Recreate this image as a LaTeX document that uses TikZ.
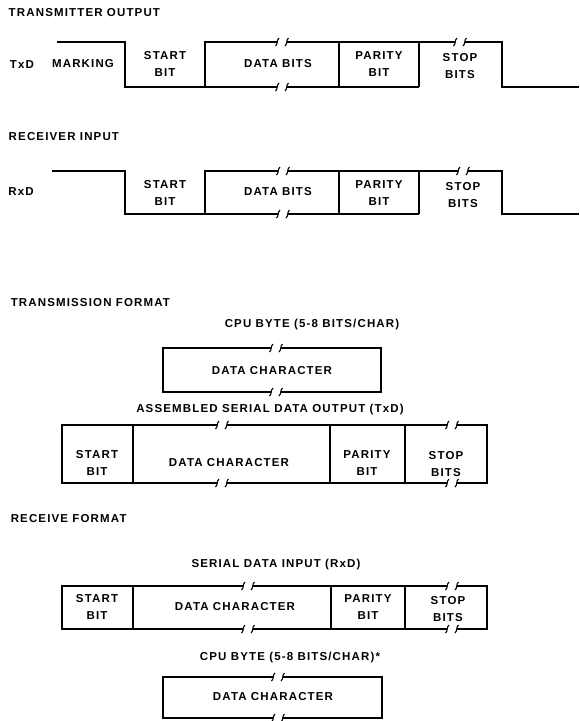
\documentclass[tikz,border=0pt]{standalone}
\usepackage{fontspec}
\newfontfamily\labfont{Liberation Sans}[LetterSpace=10]
\begin{document}
\begin{tikzpicture}[x=1pt,y=-1pt, line width=1.5pt, line join=miter,
  lab/.style={font=\labfont\bfseries\fontsize{11.5}{16.5}\selectfont, inner sep=0pt, align=center},
  title/.style={lab, anchor=west},
  brk/.pic={\draw[line width=1.1pt] (-6.5,4) .. controls (-4,2) and (-5.5,-2) .. (-3,-4);
            \draw[line width=1.1pt] (3,4) .. controls (5.5,2) and (4,-2) .. (6.5,-4);}]
\useasboundingbox (0,0) rectangle (579,721);

% ---------- Transmitter output ----------
\node[title] (tTitle) at (8,13) {TRANSMITTER OUTPUT};
\node[lab] (txd) at (22,65) {TxD};
\node[lab] (mark) at (83,64) {MARKING};
\node[lab] (tStart) at (165,64) {START\\BIT};
\node[lab] (tData) at (278,64) {DATA BITS};
\node[lab] (tPar) at (379,64) {PARITY\\BIT};
\node[lab] (tStop) at (460,66) {STOP\\BITS};
\draw (57,42) -- (125,42) -- (125,87) -- (277,87);
\draw (287,87) -- (419,87);
\draw (205,87) -- (205,42) -- (277,42);
\draw (287,42) -- (455,42);
\draw (465,42) -- (502,42) -- (502,87) -- (579,87);
\draw (339,42) -- (339,87);
\draw (419,42) -- (419,87);
\pic at (282,42) {brk}; \pic at (282,87) {brk}; \pic at (460,42) {brk};

% ---------- Receiver input ----------
\node[title] (rTitle) at (8,137) {RECEIVER INPUT};
\node[lab] (rxd) at (21,192) {RxD};
\node[lab] (rStart) at (165,193) {START\\BIT};
\node[lab] (rData) at (278,192) {DATA BITS};
\node[lab] (rPar) at (379,193) {PARITY\\BIT};
\node[lab] (rStop) at (463,195) {STOP\\BITS};
\draw (52,171) -- (125,171) -- (125,214) -- (278,214);
\draw (288,214) -- (419,214);
\draw (205,214) -- (205,171) -- (278,171);
\draw (288,171) -- (458,171);
\draw (468,171) -- (502,171) -- (502,214) -- (579,214);
\draw (339,171) -- (339,214);
\draw (419,171) -- (419,214);
\pic at (283,171) {brk}; \pic at (283,214) {brk}; \pic at (463,171) {brk};

% ---------- Transmission format ----------
\node[title] (tfTitle) at (10,303) {TRANSMISSION FORMAT};
\node[lab] (cpu1) at (312,325) {CPU BYTE (5-8 BITS/CHAR)};
\draw (271,348) -- (163,348) -- (163,392) -- (271,392);
\draw (281,348) -- (381,348) -- (381,392) -- (281,392);
\pic at (276,348) {brk}; \pic at (276,392) {brk};
\node[lab] (dc1) at (272,371) {DATA CHARACTER};

\node[lab] (asm) at (270,410) {ASSEMBLED SERIAL DATA OUTPUT (TxD)};
\draw (217,425) -- (62,425) -- (62,483) -- (217,483);
\draw (227,425) -- (447,425); \draw (227,483) -- (447,483);
\draw (457,425) -- (487,425) -- (487,483) -- (457,483);
\draw (133,425) -- (133,483);
\draw (330,425) -- (330,483);
\draw (405,425) -- (405,483);
\pic at (222,425) {brk}; \pic at (222,483) {brk};
\pic at (452,425) {brk}; \pic at (452,483) {brk};
\node[lab] (aStart) at (97,463) {START\\BIT};
\node[lab] (aData) at (229,463) {DATA CHARACTER};
\node[lab] (aPar) at (367,463) {PARITY\\BIT};
\node[lab] (aStop) at (446,464) {STOP\\BITS};

% ---------- Receive format ----------
\node[title] (rfTitle) at (10,519) {RECEIVE FORMAT};
\node[lab] (sdi) at (276,565) {SERIAL DATA INPUT (RxD)};
\draw (243,586) -- (62,586) -- (62,629) -- (243,629);
\draw (253,586) -- (447,586); \draw (253,629) -- (447,629);
\draw (457,586) -- (487,586) -- (487,629) -- (457,629);
\draw (133,586) -- (133,629);
\draw (331,586) -- (331,629);
\draw (405,586) -- (405,629);
\pic at (248,586) {brk}; \pic at (248,629) {brk};
\pic at (452,586) {brk}; \pic at (452,629) {brk};
\node[lab] (sStart) at (97,607) {START\\BIT};
\node[lab] (sData) at (235,607) {DATA CHARACTER};
\node[lab] (sPar) at (368,607) {PARITY\\BIT};
\node[lab] (sStop) at (448,609) {STOP\\BITS};

\node[lab] (cpu2) at (290,658) {CPU BYTE (5-8 BITS/CHAR)*};
\draw (273,677) -- (163,677) -- (163,718) -- (273,718);
\draw (283,677) -- (382,677) -- (382,718) -- (283,718);
\pic at (278,677) {brk}; \pic at (278,718) {brk};
\node[lab] (dc2) at (273,697) {DATA CHARACTER};
\end{tikzpicture}
\end{document}
